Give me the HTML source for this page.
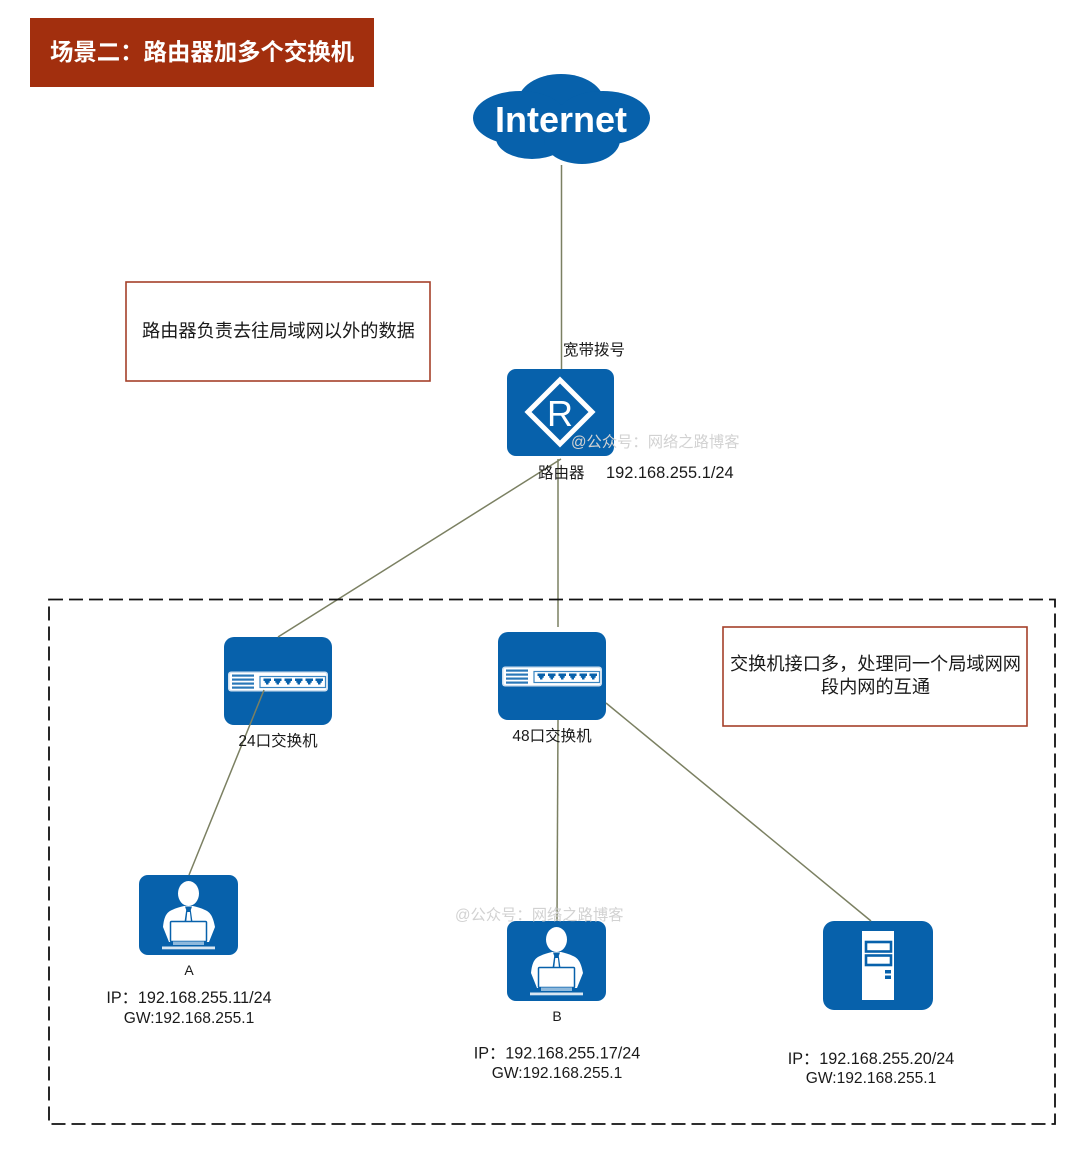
<!DOCTYPE html>
<html lang="zh">
<head>
<meta charset="utf-8">
<title>场景二：路由器加多个交换机</title>
<style>
html,body{margin:0;padding:0;background:#fff;width:1080px;height:1149px;overflow:hidden}
svg{display:block}
text{font-family:"Liberation Sans","Noto Sans CJK SC",sans-serif;fill:#1a1a1a}
.m{text-anchor:middle}
.l{font-size:15.6px}
.ip{font-size:16.2px}
.wm{font-size:15.3px;fill:#d2d2d2}
</style>
</head>
<body>
<svg width="1080" height="1149" viewBox="0 0 1080 1149" xmlns="http://www.w3.org/2000/svg">
<defs>
  <g id="sw">
    <rect width="108" height="88" rx="10" fill="#0761ab"/>
    <rect x="4" y="34.500" width="100" height="20" rx="3" fill="#cfe0ef"/>
    <rect x="5.500" y="36" width="97" height="17" rx="2" fill="#fff"/>
    <rect x="8" y="37.500" width="22" height="2.200" fill="#2a78b8"/>
    <rect x="8" y="41.500" width="22" height="2.200" fill="#2a78b8"/>
    <rect x="8" y="45.500" width="22" height="2.200" fill="#2a78b8"/>
    <rect x="8" y="49.500" width="22" height="2.200" fill="#2a78b8"/>
    <rect x="36" y="39.500" width="65.500" height="11" fill="#fff" stroke="#3a86c2" stroke-width="1.200"/>
    <g fill="#0761ab">
      <path d="M39.500 41.500h7.500v2.500h-1.300v1.800h-1.200v1.700h-2.500v-1.700h-1.200v-1.800h-1.300z"/>
      <path d="M50 41.500h7.500v2.500h-1.300v1.800h-1.200v1.700h-2.500v-1.700h-1.200v-1.800h-1.300z"/>
      <path d="M60.500 41.500h7.500v2.500h-1.300v1.800h-1.200v1.700h-2.500v-1.700h-1.200v-1.800h-1.300z"/>
      <path d="M71 41.500h7.500v2.500h-1.300v1.800h-1.200v1.700h-2.500v-1.700h-1.200v-1.800h-1.300z"/>
      <path d="M81.500 41.500h7.500v2.500h-1.300v1.800h-1.200v1.700h-2.500v-1.700h-1.200v-1.800h-1.300z"/>
      <path d="M91.500 41.500h7.500v2.500h-1.300v1.800h-1.200v1.700h-2.500v-1.700h-1.200v-1.800h-1.300z"/>
    </g>
  </g>
  <g id="user">
    <rect width="99" height="80" rx="9" fill="#0761ab"/>
    <ellipse cx="49.500" cy="18.500" rx="10.500" ry="12.500" fill="#fff"/>
    <path d="M24 52c1-11 4-15 9-17c4-2 8-3 12-4h9c4 1 8 2 12 4c5 2 8 6 10 17l-6 15H30z" fill="#fff"/>
    <path d="M46 31.500h7l-1.200 3.500 1.700 12h-8l1.700-12z" fill="#0761ab"/>
    <path d="M48.300 37h2.600l1 9h-4.600z" fill="#fff"/>
    <rect x="31.500" y="46.500" width="36" height="20" rx="1" fill="#fff" stroke="#0761ab" stroke-width="1.500"/>
    <rect x="34" y="66.500" width="31" height="3.500" fill="#8fb9dc"/>
    <rect x="23" y="71.500" width="53" height="2.800" fill="#d8e6f2"/>
  </g>
</defs>

<rect x="30" y="18" width="344" height="69" fill="#a22f0e"/>
<text x="50" y="60" font-size="23.400" font-weight="bold" style="fill:#fff">场景二：路由器加多个交换机</text>

<g fill="#0761ab">
  <ellipse cx="561" cy="102" rx="43" ry="28"/>
  <ellipse cx="520" cy="118" rx="47" ry="27"/>
  <ellipse cx="603" cy="118" rx="47" ry="27"/>
  <ellipse cx="532" cy="138" rx="36" ry="21"/>
  <ellipse cx="582" cy="140" rx="38" ry="24"/>
  <rect x="500" y="105" width="120" height="30"/>
</g>
<text class="m" x="561" y="132" font-size="36" font-weight="bold" style="fill:#fff">Internet</text>

<rect x="507" y="369" width="107" height="87" rx="9" fill="#0761ab"/>
<path d="M560 380L592 412L560 444L528 412z" fill="none" stroke="#fff" stroke-width="5"/>
<text class="m" x="560" y="426" font-size="36" style="fill:#fff">R</text>

<use href="#sw" x="224" y="637"/>
<use href="#sw" x="498" y="632"/>
<use href="#user" x="139" y="875"/>
<use href="#user" x="507" y="921"/>

<rect x="823" y="921" width="110" height="89" rx="11" fill="#0761ab"/>
<rect x="862" y="931" width="32" height="69" fill="#fff"/>
<rect x="866" y="942" width="25" height="9.500" fill="#fff" stroke="#0761ab" stroke-width="2.600"/>
<rect x="866" y="955.500" width="25" height="9.500" fill="#fff" stroke="#0761ab" stroke-width="2.600"/>
<rect x="885" y="970" width="6" height="3.500" fill="#0761ab"/>
<rect x="885" y="975.500" width="6" height="3.500" fill="#0761ab"/>

<g stroke="#7b8062" stroke-width="1.500" fill="none">
  <line x1="561.500" y1="165" x2="561.500" y2="369"/>
  <line x1="561" y1="459" x2="278" y2="637"/>
  <line x1="558" y1="459" x2="558" y2="627"/>
  <line x1="558" y1="720" x2="557" y2="921"/>
  <line x1="606" y1="703" x2="871" y2="921"/>
  <line x1="264" y1="690" x2="189" y2="875"/>
</g>

<rect x="49" y="599.500" width="1006" height="524.500" fill="none" stroke="#111" stroke-width="1.800" stroke-dasharray="14 6"/>

<rect x="126" y="282" width="304" height="99" fill="#fff" stroke="#a5402a" stroke-width="1.600"/>
<text x="142" y="337" font-size="18.200">路由器负责去往局域网以外的数据</text>

<rect x="723" y="627" width="304" height="99" fill="#fff" stroke="#a5402a" stroke-width="1.600"/>
<text class="m" x="875.500" y="670" font-size="18.200">交换机接口多，处理同一个局域网网</text>
<text class="m" x="875.500" y="693" font-size="18.200">段内网的互通</text>

<text class="wm" x="571" y="447">@公众号：网络之路博客</text>
<text class="wm" x="455" y="920">@公众号：网络之路博客</text>

<text x="563" y="355" font-size="15.500">宽带拨号</text>
<text x="538" y="478" font-size="15.500">路由器</text>
<text x="606" y="478" font-size="16.400">192.168.255.1/24</text>

<text class="m" x="278" y="746" font-size="15.500">24口交换机</text>
<text class="m" x="552" y="741" font-size="15.500">48口交换机</text>

<text class="m" x="189" y="975" font-size="14">A</text>
<text class="m ip" x="189" y="1003">IP：192.168.255.11/24</text>
<text class="m l" x="189" y="1023">GW:192.168.255.1</text>

<text class="m" x="557" y="1021" font-size="14">B</text>
<text class="m ip" x="557" y="1058.500">IP：192.168.255.17/24</text>
<text class="m l" x="557" y="1078">GW:192.168.255.1</text>

<text class="m ip" x="871" y="1064">IP：192.168.255.20/24</text>
<text class="m l" x="871" y="1083">GW:192.168.255.1</text>
</svg>
</body>
</html>
